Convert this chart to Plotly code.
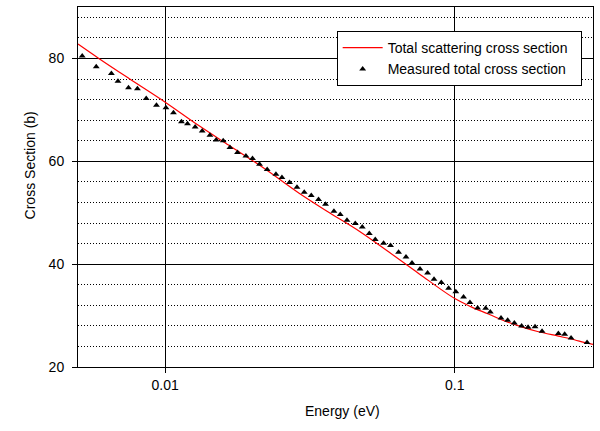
import math
import plotly.graph_objects as go

# Total scattering cross section (calculated curve)
energy_fit = [0.005, 0.0059, 0.0075, 0.01, 0.0131, 0.0166, 0.022, 0.029, 0.0368,
              0.0468, 0.0594, 0.0754, 0.1, 0.114, 0.13, 0.148, 0.169, 0.193,
              0.228, 0.252, 0.286, 0.3]
sigma_fit = [82.8, 80.0, 76.1, 71.5, 66.9, 63.1, 58.6, 53.8, 50.05,
             46.4, 42.3, 38.1, 33.3, 31.7, 30.35, 29.0, 27.85, 26.9,
             26.0, 25.45, 24.65, 24.4]

# Measured total cross section
energy_meas = [0.00517, 0.00578, 0.00652, 0.00687, 0.00747, 0.00802, 0.0086, 0.00933,
               0.01006, 0.01068, 0.01138, 0.01194, 0.01269, 0.01342, 0.01427, 0.0150,
               0.01586, 0.01673, 0.01777, 0.0190, 0.02002, 0.02117, 0.0225, 0.02412,
               0.0253, 0.02688, 0.02851, 0.03021, 0.03194, 0.03384, 0.03578, 0.03825,
               0.04022, 0.04243, 0.04532, 0.04792, 0.05066, 0.05313, 0.05677, 0.0600,
               0.06395, 0.06783, 0.07115, 0.07583, 0.08054, 0.08476, 0.08982, 0.0952,
               0.1008, 0.1072, 0.1128, 0.1199, 0.1278, 0.1326, 0.1444, 0.1522,
               0.1605, 0.1701, 0.1790, 0.1892, 0.2001, 0.2278, 0.2395, 0.2520, 0.2862]
sigma_meas = [80.45, 78.37, 77.08, 75.58, 74.28, 74.09, 72.22, 70.91,
              70.39, 69.42, 67.67, 67.28, 66.69, 65.91, 65.08, 64.16,
              63.97, 62.68, 61.71, 61.05, 60.54, 59.44, 58.40, 57.49,
              56.85, 55.88, 54.96, 53.99, 53.35, 52.57, 51.65, 50.29,
              49.65, 48.54, 47.90, 47.24, 45.95, 44.79, 44.07, 43.62,
              42.32, 41.40, 40.23, 39.07, 38.29, 37.06, 36.42, 35.31,
              34.63, 33.62, 32.53, 31.48, 31.42, 30.70, 29.53, 29.09,
              28.56, 27.98, 27.72, 27.82, 26.95, 26.50, 26.36, 25.64, 24.75]

x_ticks = [0.01, 0.1]
x_tick_text = ["0.01", "0.1"]
y_ticks = [20, 40, 60, 80]

FONT = "Liberation Sans, Arial, sans-serif"

fig = go.Figure()
fig.add_trace(go.Scatter(
    x=energy_fit, y=sigma_fit, mode="lines",
    name="Total scattering cross section\u00a0\u00a0",
    line=dict(color="#ff0000", width=1.2, shape="spline"),
))
fig.add_trace(go.Scatter(
    x=energy_meas, y=sigma_meas, mode="markers",
    name="Measured total cross section",
    marker=dict(symbol="triangle-up", size=6, color="black"),
))

fig.update_layout(
    width=600, height=431, autosize=False,
    margin=dict(l=78, r=6.5, t=7, b=64),
    paper_bgcolor="white", plot_bgcolor="white",
    font=dict(family=FONT, size=14, color="black"),
    showlegend=True,
    legend=dict(
        x=0.978, y=0.933, xanchor="right", yanchor="top",
        bgcolor="white", bordercolor="black", borderwidth=1,
        itemwidth=40, tracegroupgap=0,
        font=dict(family=FONT, size=14, color="black"),
    ),
    annotations=[
        dict(text="Energy (eV)", xref="paper", yref="paper",
             x=0.514, y=0, yshift=-44, xanchor="center", yanchor="middle",
             showarrow=False, font=dict(family=FONT, size=14)),
        dict(text="Cross Section (b)", xref="paper", yref="paper",
             x=0, xshift=-48, y=0.56, xanchor="center", yanchor="middle",
             textangle=-90, showarrow=False, font=dict(family=FONT, size=14)),
    ],
)

fig.update_xaxes(
    type="log",
    range=[math.log10(0.005), math.log10(0.3)],
    tickvals=x_ticks, ticktext=x_tick_text,
    showgrid=True, gridcolor="black", gridwidth=1,
    showline=True, linecolor="black", linewidth=1, mirror=True,
    ticks="outside", ticklen=5, tickcolor="black",
    zeroline=False,
)

fig.update_yaxes(
    range=[20, 90],
    tickvals=y_ticks,
    showgrid=True, gridcolor="black", gridwidth=1,
    showline=True, linecolor="black", linewidth=1, mirror=True,
    ticks="outside", ticklen=5, tickcolor="black",
    ticklabelstandoff=5,
    zeroline=False,
    minor=dict(dtick=4, tick0=0, showgrid=True, gridcolor="black",
               griddash="1px,2px", gridwidth=1),
)

fig.write_html("out.html")
